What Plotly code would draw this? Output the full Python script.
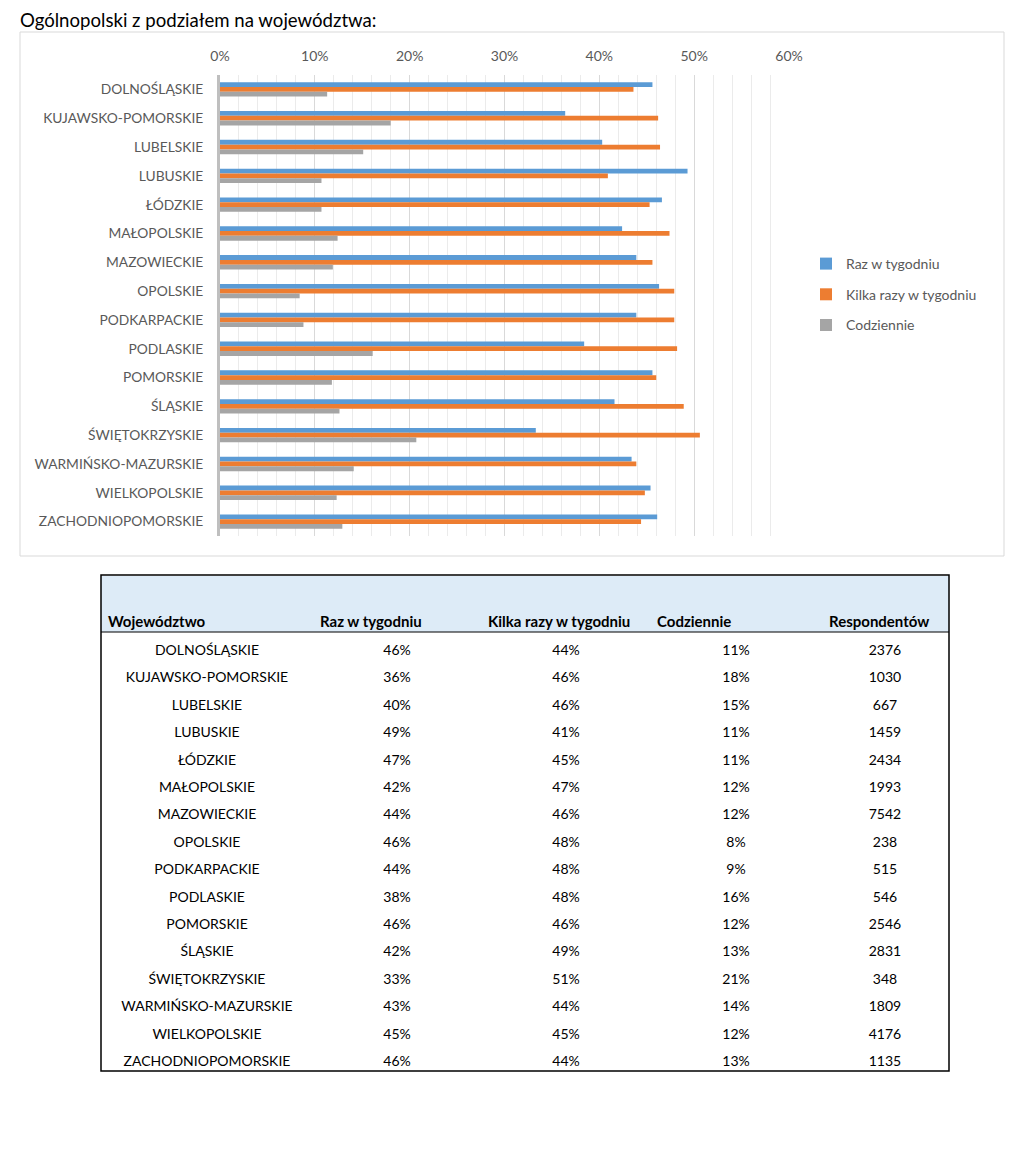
import plotly.graph_objects as go

W, H = 1024, 1154

# ---------------- data ----------------
regions = ["DOLNOŚLĄSKIE", "KUJAWSKO-POMORSKIE", "LUBELSKIE", "LUBUSKIE", "ŁÓDZKIE",
           "MAŁOPOLSKIE", "MAZOWIECKIE", "OPOLSKIE", "PODKARPACKIE", "PODLASKIE",
           "POMORSKIE", "ŚLĄSKIE", "ŚWIĘTOKRZYSKIE", "WARMIŃSKO-MAZURSKIE",
           "WIELKOPOLSKIE", "ZACHODNIOPOMORSKIE"]

series_names = ["Raz w tygodniu", "Kilka razy w tygodniu", "Codziennie"]

# bar lengths (share of respondents)
raz_bar = [0.456, 0.364, 0.403, 0.493, 0.466, 0.424, 0.439, 0.463, 0.439, 0.384,
           0.456, 0.416, 0.333, 0.434, 0.454, 0.461]
kilka_bar = [0.436, 0.462, 0.464, 0.409, 0.453, 0.474, 0.456, 0.479, 0.479, 0.482,
             0.460, 0.489, 0.506, 0.439, 0.448, 0.444]
codz_bar = [0.113, 0.180, 0.151, 0.107, 0.107, 0.124, 0.119, 0.084, 0.088, 0.161,
            0.118, 0.126, 0.207, 0.141, 0.123, 0.129]

# table values (rounded percents) and respondents
raz_pct = [46, 36, 40, 49, 47, 42, 44, 46, 44, 38, 46, 42, 33, 43, 45, 46]
kilka_pct = [44, 46, 46, 41, 45, 47, 46, 48, 48, 48, 46, 49, 51, 44, 45, 44]
codz_pct = [11, 18, 15, 11, 11, 12, 12, 8, 9, 16, 12, 13, 21, 14, 12, 13]
respondents = [2376, 1030, 667, 1459, 2434, 1993, 7542, 238, 515, 546, 2546, 2831,
               348, 1809, 4176, 1135]

table_headers = ["Województwo", "Raz w tygodniu", "Kilka razy w tygodniu",
                 "Codziennie", "Respondentów"]
x_ticks = [0, 0.1, 0.2, 0.3, 0.4, 0.5, 0.6]
title_text = "Ogólnopolski z podziałem na województwa:"

# ---------------- style ----------------
FONT = "Lato"
colors = ["#5B9BD5", "#ED7D31", "#A5A5A5"]
GRAY_TXT = "#595959"


def px(x):
    return x / W


def py(y):
    return 1 - y / H


fig = go.Figure()

for i, (name, vals) in enumerate(zip(series_names, [raz_bar, kilka_bar, codz_bar])):
    fig.add_trace(go.Bar(
        y=regions, x=vals, name=name, orientation="h",
        marker=dict(color=colors[i], line=dict(width=0)),
        legendgroup=f"g{i}", xaxis="x", yaxis="y",
        hoverinfo="x+y+name",
    ))

# ---------------- table (text on its own axes) ----------------
col_centers = [207, 397, 566, 736, 885]
col_texts = [
    regions,
    [f"{v}%" for v in raz_pct],
    [f"{v}%" for v in kilka_pct],
    [f"{v}%" for v in codz_pct],
    [str(v) for v in respondents],
]
for cx, txt in zip(col_centers, col_texts):
    fig.add_trace(go.Scatter(
        x=[cx] * len(regions), y=regions, text=txt, mode="text",
        textposition="middle center",
        textfont=dict(family=FONT, size=14, color="#000000"),
        xaxis="x2", yaxis="y2", showlegend=False, hoverinfo="skip",
        cliponaxis=False,
    ))

n = len(regions)
row_top, row_bot = 637.8, 1076.2
fig.update_layout(
    width=W, height=H,
    margin=dict(l=0, r=0, t=0, b=0, autoexpand=False),
    paper_bgcolor="white", plot_bgcolor="white",
    font=dict(family=FONT, color=GRAY_TXT),
    barmode="group", bargap=0.5, bargroupgap=0,
    showlegend=True,
    legend=dict(
        x=px(806), y=py(248), xanchor="left", yanchor="top",
        traceorder="grouped", tracegroupgap=9.5,
        font=dict(family=FONT, size=14, color=GRAY_TXT),
        bgcolor="rgba(0,0,0,0)", itemwidth=30,
    ),
    xaxis=dict(
        domain=[px(220), px(789)], range=[0, 0.6], side="top",
        tickvals=x_ticks, tickformat=".0%",
        tickfont=dict(family=FONT, size=14, color=GRAY_TXT),
        showgrid=True, gridcolor="#D9D9D9", gridwidth=1,
        minor=dict(dtick=0.02, tick0=0, showgrid=True, gridcolor="#EBEBEB", gridwidth=1),
        zeroline=False, showline=False, ticks="", ticklabelstandoff=10,
        anchor="y", fixedrange=True, automargin=False,
    ),
    yaxis=dict(
        domain=[py(536), py(75)], range=[n - 0.5, -0.5], type="category",
        tickfont=dict(family=FONT, size=13.8, color=GRAY_TXT),
        showline=True, linecolor="#BFBFBF", linewidth=3, ticks="",
        ticklabelstandoff=11, showgrid=False, zeroline=False,
        anchor="x", fixedrange=True, automargin=False,
    ),
    xaxis2=dict(domain=[px(101), px(949)], range=[101, 949], visible=False,
                anchor="y2", fixedrange=True, automargin=False),
    yaxis2=dict(domain=[py(row_bot), py(row_top)], range=[n - 0.5, -0.5],
                type="category", visible=False, anchor="x2", fixedrange=True,
                automargin=False),
)

shapes = [
    # chart border
    dict(type="rect", xref="paper", yref="paper", x0=px(20), x1=px(1004),
         y0=py(556), y1=py(32), line=dict(color="#D9D9D9", width=1), layer="below"),
    # table header fill
    dict(type="rect", xref="paper", yref="paper", x0=px(101), x1=px(949),
         y0=py(632), y1=py(576), fillcolor="#DDEBF7", line=dict(width=0), layer="below"),
    # header underline
    dict(type="line", xref="paper", yref="paper", x0=px(101), x1=px(949),
         y0=py(632), y1=py(632), line=dict(color="#000000", width=1)),
    # table outer box
    dict(type="rect", xref="paper", yref="paper", x0=px(101), x1=px(949),
         y0=py(1071), y1=py(575), line=dict(color="#000000", width=1.5)),
]
fig.update_layout(shapes=shapes)

annotations = [
    dict(text=title_text, xref="paper", yref="paper", x=px(18), y=py(20),
         xanchor="left", yanchor="middle", showarrow=False,
         font=dict(family=FONT, size=18.6, color="#000000")),
]
header_left = [106, 318, 486, 655, 827]
for hx, htxt in zip(header_left, table_headers):
    annotations.append(dict(
        text=f"<b>{htxt}</b>", xref="x2", yref="paper", x=hx, y=py(621),
        xanchor="left", yanchor="middle", showarrow=False,
        font=dict(family=FONT, size=15, color="#000000")))
fig.update_layout(annotations=annotations)

fig.write_html("out.html")
